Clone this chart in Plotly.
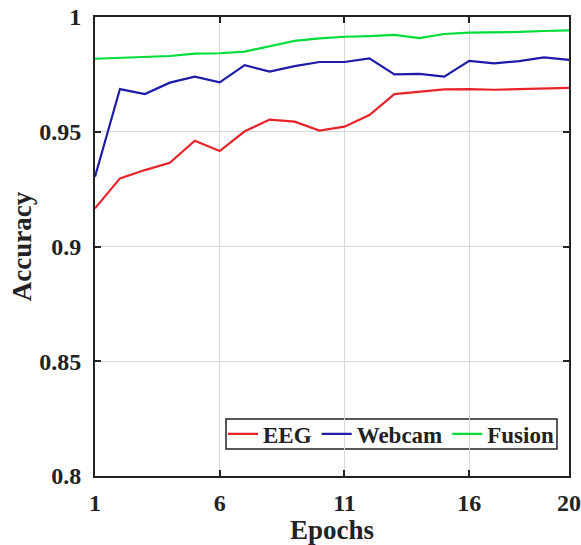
import plotly.graph_objects as go

epochs = list(range(1, 21))
eeg = [0.9166, 0.9297, 0.9333, 0.9365, 0.9461, 0.9416, 0.9502, 0.9553, 0.9544, 0.9505,
       0.9522, 0.9573, 0.9664, 0.9675, 0.9685, 0.9686, 0.9683, 0.9686, 0.9689, 0.9691]
webcam = [0.9304, 0.9686, 0.9664, 0.9714, 0.9740, 0.9715, 0.9790, 0.9762, 0.9786, 0.9804,
          0.9804, 0.9820, 0.9750, 0.9752, 0.9740, 0.9809, 0.9798, 0.9808, 0.9824, 0.9813]
fusion = [0.9818, 0.9823, 0.9826, 0.9830, 0.9840, 0.9842, 0.9849, 0.9874, 0.9896, 0.9907,
          0.9914, 0.9917, 0.9922, 0.9908, 0.9926, 0.9932, 0.9933, 0.9935, 0.9939, 0.9942]

series_names = ["EEG", "Webcam", "Fusion"]
series_colors = ["#e8232a", "#1c1ca8", "#00dd3a"]
x_ticks = [1, 6, 11, 16, 20]
y_ticks = [0.8, 0.85, 0.9, 0.95, 1.0]
y_tick_labels = ["0.8", "0.85", "0.9", "0.95", "1"]

FONT = "Liberation Serif, Times New Roman, serif"

fig = go.Figure()
for name, vals, col in zip(series_names, [eeg, webcam, fusion], series_colors):
    fig.add_trace(go.Scatter(x=epochs, y=vals, mode="lines", name=name,
                             line=dict(color=col, width=2.2)))

axis_common = dict(
    showline=True, linecolor="#222222", linewidth=2, mirror="ticks",
    ticks="inside", ticklen=6, tickwidth=2, tickcolor="#222222",
    showgrid=True, gridcolor="#d8d8d8", gridwidth=1, zeroline=False,
    tickfont=dict(family=FONT, size=24, color="#222222", weight="bold"),
)

fig.update_layout(
    width=581, height=545,
    margin=dict(l=95, r=12, t=17, b=69, autoexpand=False),
    paper_bgcolor="white", plot_bgcolor="white",
    xaxis=dict(range=[1, 20], tickvals=x_ticks, ticklabelstandoff=4,
               title=dict(text="Epochs", standoff=0,
                          font=dict(family=FONT, size=27, color="#222222", weight="bold")),
               **axis_common),
    yaxis=dict(range=[0.8, 1.0], tickvals=y_ticks, ticktext=y_tick_labels,
               ticklabelstandoff=7,
               title=dict(text="Accuracy", standoff=0,
                          font=dict(family=FONT, size=27, color="#222222", weight="bold")),
               **axis_common),
    legend=dict(orientation="h", x=0.27, xanchor="left", y=0.0915, yanchor="middle",
                bgcolor="rgba(0,0,0,0)", borderwidth=0,
                font=dict(family=FONT, size=23, color="#222222", weight="bold"),
                itemwidth=30, tracegroupgap=0),
    showlegend=True,
    shapes=[dict(type="rect", xref="paper", yref="paper",
                 x0=(226 - 95) / 474, x1=(557 - 95) / 474,
                 y0=(476 - 449) / 459, y1=(476 - 419) / 459,
                 line=dict(color="#222222", width=1.5), fillcolor="white", layer="below")],
)

fig.write_html("out.html", config={"displayModeBar": False},
               post_script="document.body.style.margin='0px';document.body.style.overflow='hidden';")
